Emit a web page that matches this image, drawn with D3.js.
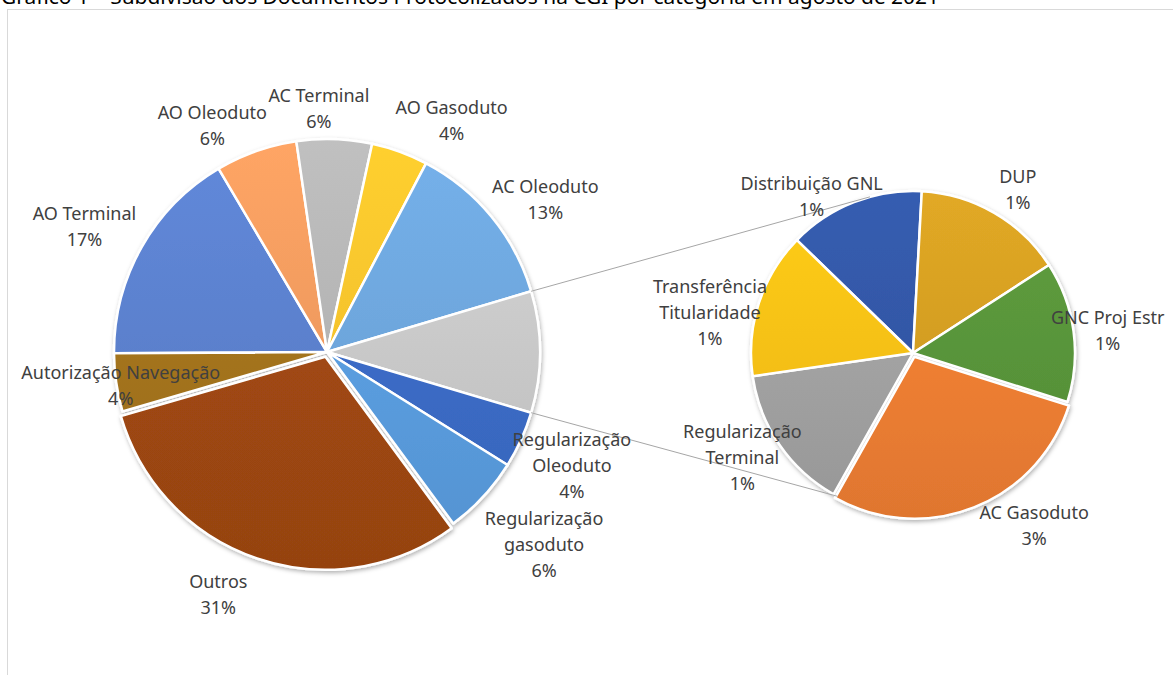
<!DOCTYPE html>
<html lang="pt">
<head>
<meta charset="utf-8" />
<title>Gráfico 1</title>
<script src="https://cdn.jsdelivr.net/npm/d3@7"></script>
<style>
  body { margin: 0; background: #fff; }
  .lbl { font-family: "Noto Sans", "Open Sans", sans-serif; font-size: 18px; fill: #404040; }
  .title { font-family: "Noto Sans", sans-serif; font-size: 19px; fill: #000; }
</style>
</head>
<body>
<div id="chart"></div>
<script>
/*************** data ***************/
// main pie (values are % of total), the "other" group is inserted after AC Oleoduto
const mainNames = ["AO Terminal", "AO Oleoduto", "AC Terminal", "AO Gasoduto", "AC Oleoduto",
  "Regularização\nOleoduto", "Regularização\ngasoduto", "Outros", "Autorização Navegação"];
const mainValues = [16.6, 6.2, 5.7, 4.3, 12.7, 4.3, 6.0, 30.6, 4.4];
const groupAfter = 4;

// second pie (break-out of the group)
const subNames = ["Distribuição GNL", "DUP", "GNC Proj Estr", "AC Gasoduto",
  "Regularização\nTerminal", "Transferência\nTitularidade"];
const subValues = [1.25, 1.38, 1.29, 2.6, 1.34, 1.34];

const titleText = "Gráfico 1 – Subdivisão dos Documentos Protocolizados na CGI por categoria em agosto de 2021";

/*************** styles / layout ***************/
const mainColors = ["#5a80cc", "#f09a5e", "#b3b3b3", "#fbc22c", "#6da5db", "#c8c8c8",
  "#3b6bc6", "#5a9ddf", "#a04812", "#a3731c"];
const subColors = ["#3257a5", "#d29d22", "#58943a", "#f07f32", "#a2a2a2", "#fcc014"];

// label placement: [radius, angle offset from slice middle in degrees]
const mainLabelPos = [[273, -2.2], [254, -7.4], [243, -3.9], [263, 8.3], [266, 4.6], null,
  [270, 0.6], [290, -1.3], [266, 5.4], [209, -1.0]];
const subLabelPos = [[186, -11.7], [194, 2.6], [196, 1.0], [211, -13.5], [200, 3.0], [207, -6.8]];

const width = 1173, height = 675;
const mainC = { x: 327, y: 352 }, mainR = 213;
const subC = { x: 913, y: 353 }, subR = 162;
const lineH = 26;
const rad = Math.PI / 180;

const svg = d3.select("#chart").append("svg")
  .attr("width", width).attr("height", height);

// frame + clipped title
svg.append("rect").attr("x", 7.5).attr("y", 9.5).attr("width", 1200).attr("height", 700)
  .attr("fill", "#fff").attr("stroke", "#d9d9d9");
svg.append("text").attr("class", "title").attr("x", 1).attr("y", 4)
  .attr("textLength", 938).attr("lengthAdjust", "spacingAndGlyphs").text(titleText);

const defs = svg.append("defs");
const shadow = defs.append("filter").attr("id", "sh")
  .attr("x", "-20%").attr("y", "-20%").attr("width", "140%").attr("height", "140%");
shadow.append("feDropShadow").attr("dx", 1).attr("dy", 2).attr("stdDeviation", 2)
  .attr("flood-color", "#000").attr("flood-opacity", 0.3);

function grad(id, color, cy, r) {
  const g = defs.append("linearGradient").attr("id", id)
    .attr("gradientUnits", "userSpaceOnUse")
    .attr("x1", 0).attr("x2", 0).attr("y1", cy - r).attr("y2", cy + r);
  g.append("stop").attr("offset", 0).attr("stop-color", d3.color(color).brighter(0.2));
  g.append("stop").attr("offset", 1).attr("stop-color", d3.color(color).darker(0.2));
}

/*************** main pie ***************/
const groupValue = d3.sum(subValues);
const mainAll = mainValues.slice();
mainAll.splice(groupAfter + 1, 0, groupValue);
const labelsAll = mainNames.slice();
labelsAll.splice(groupAfter + 1, 0, null);
const total = d3.sum(mainAll);

// rotate so the group slice is centred on the right side
const before = d3.sum(mainAll.slice(0, groupAfter + 1));
const a0 = Math.PI / 2 - (before + groupValue / 2) / total * 2 * Math.PI;

const mainPie = d3.pie().sort(null).value(d => d)
  .startAngle(a0).endAngle(a0 + 2 * Math.PI);
const mainArcs = mainPie(mainAll);
const arc = d3.arc().innerRadius(0);

const gMain = svg.append("g").attr("transform", `translate(${mainC.x},${mainC.y})`)
  .attr("filter", "url(#sh)");
mainArcs.forEach((d, i) => grad("gm" + i, mainColors[i], 0, mainR));
gMain.selectAll("path").data(mainArcs).enter().append("path")
  .attr("d", d => arc.outerRadius(mainR)(d))
  .attr("fill", (d, i) => `url(#gm${i})`)
  .attr("stroke", "#fff").attr("stroke-width", 2.5).attr("stroke-linejoin", "round")
  .attr("transform", (d, i) => {
    const ex = labelsAll[i] === "Outros" ? 5 : 0;
    const m = (d.startAngle + d.endAngle) / 2;
    return `translate(${ex * Math.sin(m)},${-ex * Math.cos(m)})`;
  });

/*************** second pie ***************/
const subPie = d3.pie().sort(null).value(d => d)
  .startAngle(-45.8 * rad).endAngle(-45.8 * rad + 2 * Math.PI);
const subArcs = subPie(subValues);
subArcs.forEach((d, i) => grad("gs" + i, subColors[i], 0, subR));
const gSub = svg.append("g").attr("transform", `translate(${subC.x},${subC.y})`)
  .attr("filter", "url(#sh)");
gSub.selectAll("path").data(subArcs).enter().append("path")
  .attr("d", d => arc.outerRadius(subR)(d))
  .attr("fill", (d, i) => `url(#gs${i})`)
  .attr("stroke", "#fff").attr("stroke-width", 2.5).attr("stroke-linejoin", "round")
  .attr("transform", (d, i) => {
    const ex = subNames[i] === "AC Gasoduto" ? 4 : 0;
    const m = (d.startAngle + d.endAngle) / 2;
    return `translate(${ex * Math.sin(m)},${-ex * Math.cos(m)})`;
  });

/*************** connector lines ***************/
const gArc = mainArcs[groupAfter + 1];
const pt = (c, r, a) => [c.x + r * Math.sin(a), c.y - r * Math.cos(a)];
const connectors = [
  [pt(mainC, mainR, gArc.startAngle), pt(subC, subR, -15.4 * rad)],
  [pt(mainC, mainR, gArc.endAngle), pt(subC, subR, 207.8 * rad)]
];
svg.selectAll("line.conn").data(connectors).enter().append("line")
  .attr("class", "conn")
  .attr("x1", d => d[0][0]).attr("y1", d => d[0][1])
  .attr("x2", d => d[1][0]).attr("y2", d => d[1][1])
  .attr("stroke", "#a6a6a6").attr("stroke-width", 1);

/*************** labels ***************/
function drawLabel(c, d, pos, name, value) {
  const m = (d.startAngle + d.endAngle) / 2 + pos[1] * rad;
  const [x, y] = pt(c, pos[0], m);
  const lines = name.split("\n").concat([Math.round(value / total * 100) + "%"]);
  const t = svg.append("text").attr("class", "lbl").attr("text-anchor", "middle");
  const y0 = y - (lines.length - 1) * lineH / 2;
  lines.forEach((s, k) => {
    t.append("tspan").attr("x", x).attr("y", y0 + k * lineH).attr("dy", "0.35em").text(s);
  });
}
mainArcs.forEach((d, i) => {
  if (labelsAll[i] === null) return;
  drawLabel(mainC, d, mainLabelPos[i], labelsAll[i], mainAll[i]);
});
subArcs.forEach((d, i) => drawLabel(subC, d, subLabelPos[i], subNames[i], subValues[i]));
</script>
</body>
</html>
